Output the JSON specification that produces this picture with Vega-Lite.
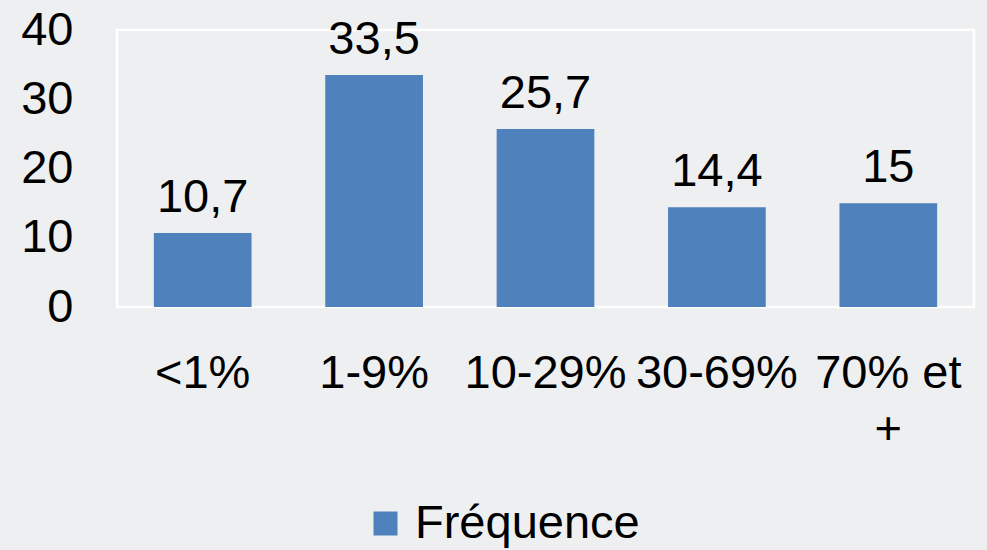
{
  "$schema": "https://vega.github.io/schema/vega-lite/v6.json",
  "width": 857,
  "height": 277,
  "autosize": "none",
  "padding": {"left": 117, "top": 30, "right": 13, "bottom": 243},
  "background": "#eeeff1",
  "config": {
    "font": "Liberation Sans",
    "view": {"stroke": "#ffffff", "strokeWidth": 2.5},
    "locale": {"number": {"decimal": ",", "thousands": " ", "grouping": [3], "currency": ["", " €"]}}
  },
  "data": {
    "values": [
      {"classe": "<1%", "frequence": 10.7},
      {"classe": "1-9%", "frequence": 33.5},
      {"classe": "10-29%", "frequence": 25.7},
      {"classe": "30-69%", "frequence": 14.4},
      {"classe": "70% et +", "frequence": 15}
    ]
  },
  "encoding": {
    "x": {
      "field": "classe",
      "type": "nominal",
      "sort": null,
      "scale": {"paddingInner": 0.43, "paddingOuter": 0.215},
      "axis": {
        "title": null,
        "labelAngle": 0,
        "labelFontSize": 47,
        "labelColor": "#000000",
        "labelPadding": 43,
        "labelLineHeight": 56,
        "labelBaseline": "top",
        "labelOverlap": false,
        "labelLimit": 300,
        "labelExpr": "datum.value == '70% et +' ? ['70% et', '+'] : datum.value",
        "domain": false,
        "ticks": false
      }
    },
    "y": {
      "field": "frequence",
      "type": "quantitative",
      "scale": {"domain": [0, 40], "nice": false},
      "axis": {
        "title": null,
        "values": [0, 10, 20, 30, 40],
        "labelFontSize": 47,
        "labelColor": "#000000",
        "labelPadding": 44,
        "grid": false,
        "domain": false,
        "ticks": false
      }
    }
  },
  "layer": [
    {
      "mark": {"type": "bar"},
      "encoding": {
        "color": {
          "datum": "Fréquence",
          "type": "nominal",
          "scale": {"range": ["#4f81bd"]},
          "legend": {
            "title": null,
            "orient": "none",
            "legendX": 245,
            "legendY": 470,
            "labelFontSize": 47,
            "labelColor": "#000000",
            "symbolType": "square",
            "symbolSize": 576,
            "symbolStrokeWidth": 0,
            "labelOffset": 6,
            "labelLimit": 400
          }
        }
      }
    },
    {
      "mark": {"type": "text", "baseline": "alphabetic", "dy": -21, "fontSize": 47, "color": "#000000"},
      "encoding": {
        "text": {"field": "frequence", "type": "quantitative", "format": ".1~f"}
      }
    }
  ]
}
